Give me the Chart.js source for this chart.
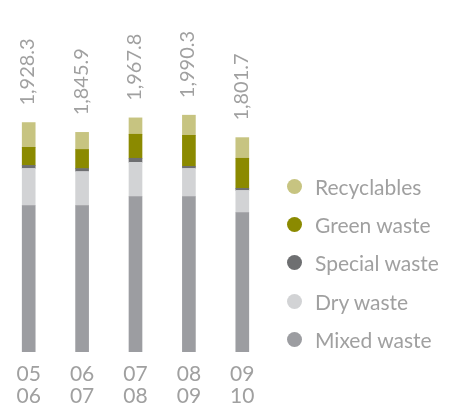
<!DOCTYPE html>
<html>
<head>
<meta charset="utf-8">
<script src="https://cdn.jsdelivr.net/npm/chart.js@4/dist/chart.umd.min.js"></script>
<style>
  html, body { margin: 0; padding: 0; background: #fff; }
  #wrap { position: relative; width: 454px; height: 408px; overflow: hidden; }
  #legend { position: absolute; left: 287px; top: 0; font-family: Lato, sans-serif; font-weight: 400; font-size: 21px; color: #a0a0a0; }
  #legend div { position: absolute; white-space: nowrap; line-height: 21px; }
  #legend span { position: absolute; left: 0; top: 3px; width: 15px; height: 15px; border-radius: 50%; }
  #legend b { font-weight: 400; position: absolute; left: 28px; top: 0; }
</style>
</head>
<body>
<div id="wrap">
  <canvas id="myChart" width="454" height="408"></canvas>
  <div id="legend"></div>
</div>
<script>
var categories = [['05', '06'], ['06', '07'], ['07', '08'], ['08', '09'], ['09', '10']];
var totals = [1928.3, 1845.9, 1967.8, 1990.3, 1801.7];
var mixedWaste = [1231, 1230, 1307, 1307, 1172];
var dryWaste = [312, 287, 287, 236, 186];
var specialWaste = [25, 25, 34, 17, 17];
var greenWaste = [152, 160, 202, 261, 253];
var recyclables = [208.3, 143.9, 137.8, 169.3, 173.7];

var textColor = '#a0a0a0';

// total above each bar, rotated
var totalLabels = {
  id: 'totalLabels',
  afterDatasetsDraw: function(chart) {
    var c = chart.ctx;
    var top = chart.getDatasetMeta(chart.data.datasets.length - 1);
    c.save();
    c.fillStyle = textColor;
    c.font = '400 20px Lato, sans-serif';
    c.textAlign = 'left';
    c.textBaseline = 'middle';
    top.data.forEach(function(bar, i) {
      c.save();
      c.translate(bar.x - 1, bar.y - 17);
      c.rotate(-Math.PI / 2);
      c.fillText(totals[i].toLocaleString('en-US', {minimumFractionDigits: 1}), 0, 0);
      c.restore();
    });
    c.restore();
  }
};

var ctx = document.getElementById('myChart');
var myChart = new Chart(ctx, {
  type: 'bar',
  data: {
    labels: categories,
    datasets: [
      { label: 'Mixed waste', data: mixedWaste, backgroundColor: '#9c9da1' },
      { label: 'Dry waste', data: dryWaste, backgroundColor: '#d2d3d5' },
      { label: 'Special waste', data: specialWaste, backgroundColor: '#6e6f71' },
      { label: 'Green waste', data: greenWaste, backgroundColor: '#8b8a00' },
      { label: 'Recyclables', data: recyclables, backgroundColor: '#c7c481' }
    ]
  },
  options: {
    responsive: false,
    animation: false,
    barThickness: 13,
    layout: { padding: { left: 2, right: 185, top: 7, bottom: -10 } },
    plugins: { legend: { display: false }, tooltip: { enabled: false } },
    scales: {
      x: {
        stacked: true,
        grid: { display: false, drawTicks: false },
        border: { display: false },
        ticks: {
          color: textColor,
          padding: 11,
          font: { family: 'Lato, sans-serif', size: 21, weight: '400', lineHeight: 1.05 }
        }
      },
      y: {
        stacked: true,
        display: false,
        min: 0,
        max: 2900
      }
    }
  },
  plugins: [totalLabels]
});

// legend, top item first
var legendTops = [176, 214, 252, 291, 329];
var legend = document.getElementById('legend');
myChart.data.datasets.slice().reverse().forEach(function(ds, i) {
  var row = document.createElement('div');
  row.style.top = legendTops[i] + 'px';
  row.innerHTML = '<span style="background:' + ds.backgroundColor + '"></span><b>' + ds.label + '</b>';
  legend.appendChild(row);
});
</script>
</body>
</html>
